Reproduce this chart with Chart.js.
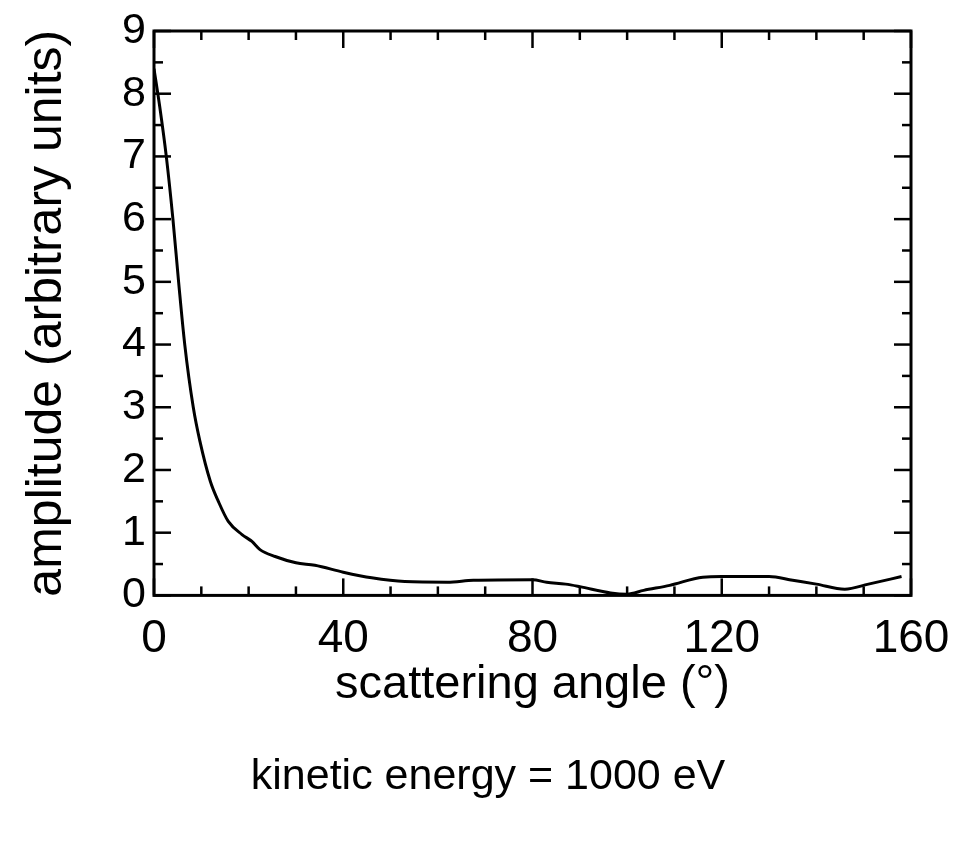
<!DOCTYPE html>
<html>
<head>
<meta charset="utf-8">
<script src="https://cdn.jsdelivr.net/npm/chart.js@4/dist/chart.umd.min.js"></script>
<style>
  html, body { margin: 0; padding: 0; background: #fff; }
  canvas { display: block; }
</style>
</head>
<body>
<canvas id="chart" width="954" height="841"></canvas>
<script>
// scattering angle (degrees) and amplitude
const angles = [0, 1.2, 2.6, 4.0, 5.2, 6.5, 8.3, 9.7, 11.9, 13.6, 15.7, 18.6, 20.7, 22.4, 25.6, 30, 34, 40, 46, 53, 62, 67.5, 80, 83, 87, 90, 96.5, 100, 103.5, 109, 116, 120, 130, 135, 140, 146, 151, 158];
const amplitudes = [8.4, 7.8, 7.0, 6.0, 5.0, 4.0, 3.0, 2.46, 1.82, 1.5, 1.18, 0.97, 0.86, 0.73, 0.62, 0.52, 0.48, 0.37, 0.28, 0.22, 0.21, 0.24, 0.25, 0.21, 0.18, 0.14, 0.04, 0.02, 0.08, 0.16, 0.29, 0.30, 0.30, 0.24, 0.18, 0.10, 0.18, 0.30];

const xTicks = [0, 40, 80, 120, 160];
const yTicks = [0, 1, 2, 3, 4, 5, 6, 7, 8, 9];
const xMinorStep = 10;
const yMinorStep = 0.5;

const xLabel = 'scattering angle (°)';
const yLabel = 'amplitude (arbitrary units)';
const caption = 'kinetic energy = 1000 eV';

const fontFamily = '"Liberation Sans", Arial, Helvetica, sans-serif';

// box around the plot with inward ticks on all four sides
const frameTicks = {
    id: 'frameTicks',
    afterDatasetsDraw(chart) {
        const { ctx, chartArea: a, scales: { x, y } } = chart;
        ctx.save();
        ctx.strokeStyle = '#000';
        ctx.lineCap = 'butt';
        ctx.lineWidth = 2.5;
        const seg = (x1, y1, x2, y2) => {
            ctx.beginPath();
            ctx.moveTo(x1, y1);
            ctx.lineTo(x2, y2);
            ctx.stroke();
        };
        const xMax = xTicks[xTicks.length - 1];
        for (let v = xTicks[0]; v <= xMax; v += xMinorStep) {
            const px = x.getPixelForValue(v);
            const len = xTicks.includes(v) ? 17 : 9;
            seg(px, a.bottom, px, a.bottom - len);
            seg(px, a.top, px, a.top + len);
        }
        const yMax = yTicks[yTicks.length - 1];
        for (let v = yTicks[0]; v <= yMax; v += yMinorStep) {
            const py = y.getPixelForValue(v);
            const len = yTicks.includes(v) ? 17 : 9;
            seg(a.left, py, a.left + len, py);
            seg(a.right, py, a.right - len, py);
        }
        ctx.lineWidth = 3;
        ctx.strokeRect(a.left, a.top, a.right - a.left, a.bottom - a.top);
        ctx.restore();
    }
};

const ctx = document.getElementById('chart').getContext('2d');

new Chart(ctx, {
    type: 'scatter',
    data: {
        datasets: [{
            data: angles.map((a, i) => ({ x: a, y: amplitudes[i] })),
            showLine: true,
            borderColor: '#000',
            borderWidth: 3,
            pointRadius: 0,
            cubicInterpolationMode: 'monotone'
        }]
    },
    options: {
        responsive: false,
        animation: false,
        devicePixelRatio: 1,
        layout: { padding: { top: 31, right: 0, bottom: 0, left: 22 } },
        plugins: {
            legend: { display: false },
            tooltip: { enabled: false },
            title: {
                display: true,
                position: 'bottom',
                text: caption,
                color: '#000',
                font: { family: fontFamily, size: 43, weight: 'normal', lineHeight: 1.2 },
                padding: { top: 30, bottom: 38 }
            }
        },
        scales: {
            x: {
                type: 'linear',
                min: 0,
                max: 160,
                grid: { display: false, drawTicks: false },
                border: { display: false },
                afterBuildTicks: (s) => { s.ticks = xTicks.map(v => ({ value: v })); },
                afterFit: (s) => { s.height = 126; s.paddingLeft = 0; s.paddingRight = 43; },
                ticks: {
                    color: '#000',
                    padding: 16,
                    maxRotation: 0,
                    font: { family: fontFamily, size: 46 }
                },
                title: {
                    display: true,
                    text: xLabel,
                    color: '#000',
                    font: { family: fontFamily, size: 47 },
                    padding: { top: 0, bottom: 8 }
                }
            },
            y: {
                min: 0,
                max: 9,
                grid: { display: false, drawTicks: false },
                border: { display: false },
                afterBuildTicks: (s) => { s.ticks = yTicks.map(v => ({ value: v })); },
                afterFit: (s) => { s.width = 132; s.paddingTop = 0; s.paddingBottom = 0; },
                ticks: {
                    color: '#000',
                    padding: 8,
                    font: { family: fontFamily, size: 43 }
                },
                title: {
                    display: true,
                    text: yLabel,
                    color: '#000',
                    font: { family: fontFamily, size: 50, lineHeight: 1 },
                    padding: { top: 0, bottom: 0 }
                }
            }
        }
    },
    plugins: [frameTicks]
});
</script>
</body>
</html>
